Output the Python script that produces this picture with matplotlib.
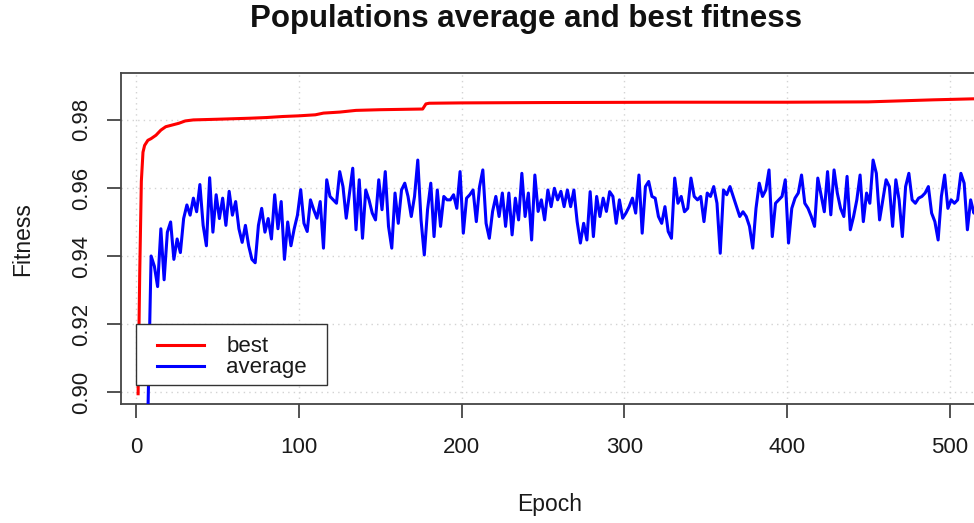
import matplotlib
matplotlib.use("Agg")
import matplotlib.pyplot as plt
from matplotlib.patches import Rectangle

plt.rcParams['font.family'] = ['Liberation Sans', 'DejaVu Sans']

title = "Populations average and best fitness"
x_label = "Epoch"
y_label = "Fitness"
x_ticks = [0, 100, 200, 300, 400, 500]
y_ticks = [0.90, 0.92, 0.94, 0.96, 0.98]
y_tick_labels = ["0.90", "0.92", "0.94", "0.96", "0.98"]

best_epoch = [1, 2, 3, 4, 5, 7, 9, 12, 15, 18, 22, 26, 30, 35, 50, 70, 80, 90,
              100, 110, 115, 125, 135, 150, 176, 178, 180, 200, 250, 330, 400,
              450, 470, 490, 515, 530]
best_fit = [0.8995, 0.935, 0.962, 0.9705, 0.9725, 0.974, 0.9745, 0.9755, 0.977,
            0.978, 0.9785, 0.979, 0.9797, 0.980, 0.9802, 0.9805, 0.9807, 0.981,
            0.9812, 0.9815, 0.982, 0.9823, 0.9828, 0.983, 0.9832, 0.9847, 0.9849,
            0.985, 0.9851, 0.9852, 0.9852, 0.9853, 0.9856, 0.9859, 0.9862, 0.9864]

avg_fit = [
    0.800, 0.840, 0.870, 0.893, 0.940, 0.937, 0.931, 0.948, 0.933, 0.947,
    0.950, 0.939, 0.945, 0.941, 0.951, 0.955, 0.952, 0.957, 0.953, 0.961,
    0.949, 0.943, 0.963, 0.947, 0.958, 0.951, 0.957, 0.949, 0.959, 0.952,
    0.956, 0.948, 0.944, 0.949, 0.943, 0.939, 0.938, 0.949, 0.954, 0.947,
    0.951, 0.945, 0.958, 0.948, 0.956, 0.939, 0.950, 0.943, 0.948, 0.952,
    0.9595, 0.9496, 0.9472, 0.9565, 0.9536, 0.9511, 0.956, 0.9423, 0.9624, 0.9575,
    0.9565, 0.9555, 0.9648, 0.9604, 0.9511, 0.9585, 0.9658, 0.9477, 0.9624, 0.9452,
    0.9594, 0.9565, 0.9526, 0.9506, 0.9624, 0.9536, 0.9648, 0.9487, 0.9423, 0.9585,
    0.9496, 0.9594, 0.9614, 0.9575, 0.9516, 0.9575, 0.9682, 0.9506, 0.9403, 0.9536,
    0.9614, 0.9457, 0.9594, 0.9487, 0.9575, 0.9565, 0.9565, 0.958, 0.954, 0.9648,
    0.9467, 0.957, 0.958, 0.9594, 0.9501, 0.9604, 0.9653, 0.9496, 0.9452, 0.9531,
    0.9575, 0.9516, 0.9585, 0.9487, 0.9585, 0.9462, 0.957, 0.9506, 0.9643, 0.9516,
    0.9585, 0.9447, 0.9638, 0.9531, 0.9565, 0.9506, 0.9594, 0.9545, 0.9599, 0.9565,
    0.959, 0.9545, 0.9594, 0.9545, 0.9594, 0.9501, 0.9438, 0.9496, 0.9447, 0.9589,
    0.9457, 0.9575, 0.9516, 0.957, 0.9531, 0.9589, 0.9575, 0.9496, 0.9565, 0.9511,
    0.9526, 0.9545, 0.957, 0.9526, 0.9638, 0.9467, 0.9604, 0.9619, 0.9575, 0.957,
    0.9516, 0.9496, 0.9545, 0.9472, 0.9452, 0.9629, 0.9555, 0.9575, 0.953, 0.954,
    0.9629, 0.9575, 0.9565, 0.9575, 0.9501, 0.9585, 0.9575, 0.9604, 0.9555, 0.9408,
    0.9594, 0.958, 0.9604, 0.9575, 0.9545, 0.9516, 0.953, 0.9516, 0.9487, 0.9423,
    0.954, 0.9614, 0.9575, 0.9594, 0.9653, 0.9457, 0.9555, 0.9565, 0.9575, 0.9624,
    0.9438, 0.954, 0.957, 0.9585, 0.9638, 0.9555, 0.954, 0.9516, 0.9487, 0.9629,
    0.958, 0.953, 0.9648, 0.9521, 0.9653, 0.9585, 0.954, 0.9516, 0.9634, 0.9477,
    0.9516, 0.9565, 0.9638, 0.9501, 0.9585, 0.9555, 0.9682, 0.9643, 0.9506, 0.9565,
    0.9624, 0.9604, 0.9487, 0.9624, 0.9565, 0.9457, 0.9604, 0.9643, 0.9565, 0.9555,
    0.957, 0.9575, 0.9585, 0.9604, 0.9526, 0.9501, 0.9447, 0.9575, 0.9638, 0.954,
    0.9565, 0.9555, 0.9565, 0.9643, 0.9614, 0.9477, 0.9565, 0.9526, 0.955,
]
avg_epoch = list(range(1, 2 * len(avg_fit), 2))

W, H = 974, 523
fig = plt.figure(figsize=(W / 100, H / 100), dpi=100)

ax_l, ax_r, ax_t, ax_b = 120.7, 1000.0, 73.3, 404.3
aw, ah = ax_r - ax_l, ax_b - ax_t
ax = fig.add_axes([ax_l / W, (H - ax_b) / H, aw / W, ah / H])

ax.set_xlim(-9.7, 531.05)
ax.set_ylim(0.8964, 0.9937)

grid_kw = dict(color='#d3d3d3', linestyle=(0, (1, 3)), linewidth=1.0, zorder=0)
for xv in x_ticks:
    ax.axvline(xv, **grid_kw)
for yv in y_ticks:
    ax.axhline(yv, **grid_kw)

ax.plot(best_epoch, best_fit, color='#ff0000', lw=2.2, label='best',
        solid_joinstyle='round', zorder=3)
ax.plot(avg_epoch, avg_fit, color='#0000ff', lw=2.2, label='average',
        solid_joinstyle='round', zorder=3)

ax.set_xticks(x_ticks)
ax.set_xticklabels([str(v) for v in x_ticks])
ax.set_yticks(y_ticks)
ax.set_yticklabels(y_tick_labels)

spine_col = '#444444'
for s in ax.spines.values():
    s.set_color(spine_col)
    s.set_linewidth(1.3)

ax.tick_params(axis='both', direction='out', length=10, width=1.3,
               color=spine_col, labelsize=16, labelcolor='#1a1a1a')
ax.tick_params(axis='x', pad=13.5)
ax.tick_params(axis='y', pad=10.5)
for lab in ax.get_yticklabels():
    lab.set_rotation(90)
    lab.set_va('center')
    lab.set_ha('right')

def px_to_axes(px, py):
    return ((px - ax_l) / aw, (ax_b - py) / ah)

fx0, fy0 = px_to_axes(136, 385)
fx1, fy1 = px_to_axes(327, 324)
frame = Rectangle((fx0, fy0), fx1 - fx0, fy1 - fy0, transform=ax.transAxes,
                  facecolor='white', edgecolor='#333333', linewidth=1.0,
                  zorder=4)
ax.add_patch(frame)

lx, ly = px_to_axes(157, 378.5)
leg = ax.legend(loc='lower left', bbox_to_anchor=(lx, ly),
                borderaxespad=0, fontsize=16, frameon=False,
                handlelength=2.12, handletextpad=1.0, labelspacing=0.0,
                borderpad=0.0)
leg.set_zorder(5)
for t in leg.get_texts():
    t.set_color('#1a1a1a')

fig.text(525.5 / W, 1 - 19.5 / H, title, ha='center', va='center',
         fontsize=22.5, fontweight='bold', color='#111111')
fig.text(550 / W, 1 - 505 / H, x_label, ha='center', va='center',
         fontsize=16.5, color='#1a1a1a')
fig.text(22.5 / W, 1 - 239 / H, y_label, ha='center', va='center',
         rotation=90, fontsize=16.5, color='#1a1a1a')

fig.savefig('out.png', dpi=100)
